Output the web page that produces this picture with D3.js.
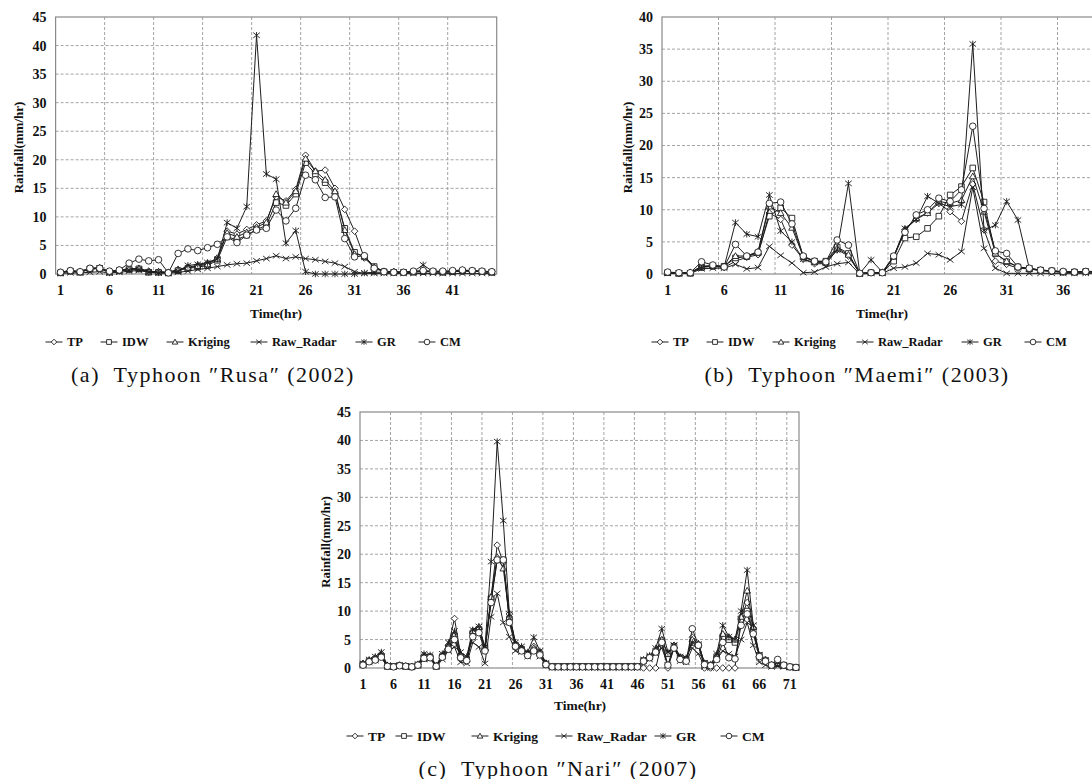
<!DOCTYPE html>
<html>
<head>
<meta charset="utf-8">
<script src="https://cdn.jsdelivr.net/npm/d3@7"></script>
<style>
  body { margin: 0; background: #fff; }
  svg { display: block; font-family: "Liberation Serif", "Times New Roman", serif; }
</style>
</head>
<body>
<div id="chart"></div>
<script>

//////////////////////////////////////////////////
/////////////////// Data /////////////////////////
//////////////////////////////////////////////////

const seriesNames = ["TP", "IDW", "Kriging", "Raw_Radar", "GR", "CM"]

// (a) Typhoon Rusa, hours 1..45
const rusaTP = [0.3,0.6,0.4,1.0,1.1,0.4,0.6,0.9,1.0,0.5,0.4,0.3,0.8,1.2,1.5,1.9,2.8,7.5,7.0,7.8,8.6,9.3,13.5,12.8,14.8,20.8,18.0,18.2,15.0,11.3,7.5,2.8,1.2,0.5,0.4,0.3,0.4,0.5,0.4,0.4,0.5,0.6,0.6,0.5,0.4]
const rusaIDW = [0.2,0.5,0.3,0.9,1.0,0.3,0.6,0.8,0.9,0.3,0.3,0.2,0.6,1.0,1.2,1.5,2.4,6.5,6.0,6.8,7.8,8.5,12.5,12.0,14.0,19.5,17.5,16.0,14.0,8.0,3.8,3.0,1.3,0.4,0.3,0.3,0.3,0.4,0.4,0.3,0.4,0.5,0.5,0.4,0.3]
const rusaKriging = [0.3,0.6,0.4,1.0,1.0,0.4,0.7,0.9,1.0,0.4,0.4,0.3,0.7,1.1,1.4,1.7,2.6,7.2,6.5,7.3,8.2,9.0,14.0,12.5,14.5,20.2,18.0,16.5,14.5,7.7,3.5,3.2,1.2,0.4,0.4,0.3,0.4,0.5,0.4,0.4,0.4,0.6,0.5,0.4,0.3]
const rusaRadar = [0.1,0.2,0.2,0.3,0.4,0.2,0.3,0.5,0.6,0.3,0.2,0.1,0.3,0.5,0.8,1.0,1.3,1.6,1.8,1.9,2.3,2.7,3.2,2.7,3.0,2.7,2.5,2.2,1.9,1.3,0.4,0.1,0.1,0.1,0.1,0.1,0.1,0.1,0.1,0.1,0.1,0.1,0.1,0.1,0.1]
const rusaGR = [0.2,0.5,0.3,0.8,1.0,0.2,0.5,0.7,0.8,0.3,0.2,0.2,0.5,1.5,1.7,2.0,2.6,9.0,8.0,11.8,41.8,17.5,16.6,5.4,7.6,0.4,0.0,0.0,0.0,0.0,0.0,0.2,0.3,0.3,0.3,0.3,0.4,1.6,0.4,0.3,0.4,0.5,0.5,0.4,0.3]
const rusaCM = [0.3,0.6,0.4,1.0,1.0,0.5,0.7,1.9,2.6,2.3,2.5,0.2,3.6,4.4,4.1,4.6,5.2,6.5,5.5,6.8,7.7,8.0,11.2,9.3,11.5,17.3,16.5,13.4,13.5,6.2,3.0,3.2,1.0,0.4,0.3,0.3,0.5,0.6,0.5,0.5,0.6,0.7,0.6,0.5,0.4]

// (b) Typhoon Maemi, hours 1..40
const maemiTP = [0.2,0.1,0.2,1.2,1.2,1.0,2.0,2.6,3.0,9.5,8.5,4.5,2.3,1.6,1.6,3.8,2.8,0.1,0.2,0.2,2.5,6.9,8.5,9.5,11.0,9.7,8.2,14.0,6.9,2.0,1.5,0.9,0.8,0.5,0.4,0.3,0.3,0.3,0.3,0.3]
const maemiIDW = [0.2,0.1,0.1,1.0,1.2,1.2,2.5,2.7,3.3,9.0,10.3,8.7,2.7,2.0,2.0,4.2,3.2,0.1,0.2,0.2,2.0,5.6,5.8,7.1,9.0,12.3,13.6,16.5,11.2,3.2,1.9,1.1,0.8,0.6,0.5,0.3,0.3,0.4,0.3,0.3]
const maemiKriging = [0.2,0.1,0.2,1.2,1.3,1.2,2.8,2.8,3.5,10.5,9.5,7.2,2.7,1.9,1.8,4.0,3.0,0.1,0.2,0.2,2.7,6.9,8.7,9.5,11.3,11.0,11.5,15.2,9.7,3.2,2.0,1.1,0.8,0.6,0.5,0.3,0.3,0.4,0.3,0.3]
const maemiRadar = [0.1,0.1,0.1,0.8,0.9,0.9,1.5,0.8,1.0,4.3,2.9,1.7,0.2,0.3,1.1,1.6,1.8,0.0,0.1,0.1,0.9,1.1,1.7,3.2,3.0,2.2,3.5,13.5,4.0,0.9,0.1,0.1,0.1,0.1,0.1,0.1,0.1,0.1,0.1,0.1]
const maemiGR = [0.2,0.1,0.2,1.1,1.3,1.1,8.0,6.2,5.8,12.3,6.7,5.0,2.3,1.8,1.7,3.7,14.1,0.1,2.2,0.3,2.7,7.1,8.5,12.1,11.0,10.5,10.8,35.8,6.8,7.6,11.3,8.4,0.9,0.6,0.4,0.3,0.3,0.3,0.3,0.3]
const maemiCM = [0.3,0.2,0.2,1.9,1.4,1.1,4.6,2.8,3.4,11.0,11.2,7.8,2.8,2.0,1.9,5.3,4.5,0.1,0.2,0.2,2.8,6.5,9.2,10.0,11.8,11.3,13.1,23.0,10.2,3.6,3.2,1.1,0.9,0.6,0.5,0.4,0.3,0.4,0.4,0.3]

// (c) Typhoon Nari, hours 1..72
const nariTP = [0.8,1.3,1.8,2.5,0.4,0.3,0.5,0.3,0.2,0.6, 2.2,2.0,0.3,2.2,4.0,8.7,2.3,1.2,6.5,7.0, 3.2,12.5,21.6,18.5,9.5,4.2,3.5,2.5,3.8,2.8, 0.8,0.3,0.2,0.2,0.2,0.2,0.2,0.2,0.2,0.2, 0.2,0.2,0.2,0.2,0.2,0.2,0.0,0.0,0.0,4.5, 0.0,3.5,1.5,1.2,5.4,4.0,0.0,0.0,0.0,0.0, 0.0,0.0,9.0,11.5,7.0,2.0,1.5,0.5,0.8,0.4,0.2,0.1]
const nariIDW = [0.6,1.2,1.5,2.0,0.3,0.3,0.4,0.3,0.2,0.5, 1.8,1.9,0.3,2.0,3.5,5.5,2.0,1.5,6.0,6.8, 3.5,12.0,19.0,19.0,8.5,4.0,3.3,2.4,3.2,2.5, 0.7,0.3,0.3,0.3,0.3,0.3,0.3,0.3,0.3,0.3, 0.3,0.3,0.3,0.3,0.3,0.3,1.3,1.9,3.0,4.8, 2.5,3.8,1.8,1.5,4.5,4.0,0.8,0.5,2.0,5.5, 5.0,4.5,8.5,10.0,6.5,2.2,1.3,0.5,0.8,0.5,0.2,0.1]
const nariKriging = [0.7,1.3,1.6,2.2,0.4,0.3,0.5,0.3,0.3,0.6, 2.0,2.0,0.4,2.1,3.8,6.0,2.3,1.5,6.5,7.2, 3.5,12.5,19.5,17.5,9.0,4.0,3.5,2.6,3.5,2.6, 0.8,0.3,0.3,0.3,0.3,0.3,0.3,0.3,0.3,0.3, 0.3,0.3,0.3,0.3,0.3,0.3,1.3,2.0,3.2,5.0, 2.5,4.0,1.9,1.6,5.0,4.3,0.8,0.5,2.2,6.0, 5.4,5.0,9.0,13.6,7.2,2.2,1.3,0.5,0.9,0.5,0.2,0.1]
const nariRadar = [0.5,1.0,1.3,1.8,0.2,0.2,0.3,0.2,0.2,0.4, 1.5,1.6,0.2,1.5,3.0,3.7,1.0,0.8,4.5,3.7, 0.8,9.0,13.1,8.0,5.5,3.0,2.8,2.0,2.8,2.0, 0.5,0.0,0.0,0.0,0.0,0.0,0.0,0.0,0.0,0.0, 0.0,0.0,0.0,0.0,0.0,0.0,0.8,1.5,2.5,3.5, 0.5,4.0,1.2,1.0,3.5,2.5,0.2,0.0,1.5,3.0, 2.5,2.0,5.0,8.0,4.0,1.0,0.5,0.2,0.3,0.2,0.1,0.0]
const nariGR = [0.8,1.5,2.0,2.8,0.5,0.3,0.5,0.4,0.3,0.7, 2.5,2.3,0.4,2.5,4.5,6.5,2.8,2.0,6.7,7.3, 3.7,18.7,39.8,25.9,9.5,4.5,3.8,2.8,5.4,3.0, 0.9,0.3,0.3,0.3,0.3,0.3,0.3,0.3,0.3,0.3, 0.3,0.3,0.3,0.3,0.3,0.3,1.5,2.2,3.5,6.9, 2.8,4.0,2.0,1.8,4.5,4.2,0.9,0.6,2.5,7.5, 5.5,5.0,10.0,17.2,7.5,2.3,1.4,0.6,0.9,0.5,0.2,0.1]
const nariCM = [0.5,1.1,1.4,1.9,0.3,0.2,0.4,0.3,0.2,0.5, 1.7,1.8,0.3,1.9,3.3,5.0,1.8,1.3,5.5,6.2, 3.0,11.5,19.0,19.0,8.0,3.8,3.0,2.2,3.0,2.3, 0.6,0.2,0.2,0.2,0.2,0.2,0.2,0.2,0.2,0.2, 0.2,0.2,0.2,0.2,0.2,0.2,1.2,1.8,2.8,4.5, 0.5,3.5,1.5,1.2,6.9,4.0,0.6,0.4,1.5,4.5, 1.8,1.6,7.5,9.5,6.0,2.0,1.2,0.5,1.5,0.5,0.2,0.1]

const captionA = "(a)  Typhoon \u2033Rusa\u2033 (2002)"
const captionB = "(b)  Typhoon \u2033Maemi\u2033 (2003)"
const captionC = "(c)  Typhoon \u2033Nari\u2033 (2007)"

//////////////////////////////////////////////////
/////////////////// Constants ////////////////////
//////////////////////////////////////////////////

const width = 1092
const height = 779
const lineColour = "#1e1e1e"
const gridColour = "#9a9a9a"
const frameColour = "#8a8a8a"

// marker shapes, centred on 0,0
const markerPath = (type, r) => {
  switch (type) {
    case "TP": return `M0,${-r}L${r},0L0,${r}L${-r},0Z`
    case "IDW": return `M${-r*0.85},${-r*0.85}H${r*0.85}V${r*0.85}H${-r*0.85}Z`
    case "Kriging": return `M0,${-r}L${r},${r*0.75}L${-r},${r*0.75}Z`
    case "Raw_Radar": return `M${-r},${-r*0.8}L${r},${r*0.8}M${r},${-r*0.8}L${-r},${r*0.8}`
    case "GR": return `M${-r},${-r*0.8}L${r},${r*0.8}M${r},${-r*0.8}L${-r},${r*0.8}M0,${-r}L0,${r}`
    default: return `M${r},0A${r},${r} 0 1 1 ${-r},0A${r},${r} 0 1 1 ${r},0Z`
  }
}
const openMarker = t => !(t === "Raw_Radar" || t === "GR")

// layout of each panel (marker centres of the legend items given in px)
const panels = [
  { series: [rusaTP, rusaIDW, rusaKriging, rusaRadar, rusaGR, rusaCM], ymax: 45,
    left: 55.6, right: 496.7, top: 17, bottom: 274, yTitleX: 18, timeX: 276, timeY: 313,
    legendMarks: [54, 109, 175, 259, 364, 427], legendY: 342, legendSize: 12.5,
    caption: captionA, capX: 213, capY: 374 },
  { series: [maemiTP, maemiIDW, maemiKriging, maemiRadar, maemiGR, maemiCM], ymax: 40,
    left: 662, right: 1114, top: 17, bottom: 274, yTitleX: 627, timeX: 882, timeY: 313,
    legendMarks: [660, 715, 781, 865, 970, 1033], legendY: 342, legendSize: 12.5,
    caption: captionB, capX: 857, capY: 374 },
  { series: [nariTP, nariIDW, nariKriging, nariRadar, nariGR, nariCM], ymax: 45,
    left: 360, right: 799, top: 412, bottom: 668, yTitleX: 325, timeX: 580, timeY: 705,
    legendMarks: [355, 404, 480, 564, 663, 729], legendY: 736, legendSize: 13.5,
    caption: captionC, capX: 558, capY: 768 }
]

const svg = d3.select("#chart")
  .append("svg")
    .attr("width", width)
    .attr("height", height)

//////////////////////////////////////////////////
/////////////////// Panels ///////////////////////
//////////////////////////////////////////////////

const drawPanel = p => {
  const n = p.series[0].length
  const hours = d3.range(1, n + 1)
  const g = svg.append("g")

  const xScale = d3.scaleBand().domain(hours).range([p.left, p.right]).padding(0)
  const yScale = d3.scaleLinear().domain([0, p.ymax]).range([p.bottom, p.top])
  const xc = h => xScale(h) + xScale.bandwidth() / 2
  const labelHours = hours.filter(h => (h - 1) % 5 === 0)

  // grid
  g.selectAll(".hgrid")
    .data(d3.range(5, p.ymax, 5))
    .join("line")
      .attr("x1", p.left).attr("x2", p.right)
      .attr("y1", d => yScale(d)).attr("y2", d => yScale(d))
      .attr("stroke", gridColour).attr("stroke-width", 0.9)
      .attr("stroke-dasharray", "3,2")
  g.selectAll(".vgrid")
    .data(labelHours.filter(h => h > 1))
    .join("line")
      .attr("x1", d => xScale(d)).attr("x2", d => xScale(d))
      .attr("y1", p.top).attr("y2", p.bottom)
      .attr("stroke", gridColour).attr("stroke-width", 0.9)
      .attr("stroke-dasharray", "3,2")

  // frame
  g.append("rect")
    .attr("x", p.left).attr("y", p.top)
    .attr("width", p.right - p.left).attr("height", p.bottom - p.top)
    .attr("fill", "none").attr("stroke", frameColour).attr("stroke-width", 1.2)

  // axes
  const xAxis = g.append("g")
    .attr("transform", `translate(0, ${p.bottom})`)
    .call(d3.axisBottom(xScale).tickValues(labelHours).tickSize(0).tickPadding(11))
  const yAxis = g.append("g")
    .attr("transform", `translate(${p.left}, 0)`)
    .call(d3.axisLeft(yScale).tickValues(d3.range(0, p.ymax + 1, 5)).tickSize(0).tickPadding(9))
  ;[xAxis, yAxis].forEach(ax => {
    ax.attr("font-family", null)
    ax.select(".domain").remove()
    ax.selectAll("text")
      .attr("font-size", 14).attr("font-weight", "bold").attr("fill", "#111")
  })

  g.append("text")
    .attr("x", p.timeX).attr("y", p.timeY)
    .attr("text-anchor", "middle").attr("dominant-baseline", "central")
    .attr("font-size", 13.5).attr("font-weight", "bold").attr("fill", "#111")
    .text("Time(hr)")
  g.append("text")
    .attr("transform", `translate(${p.yTitleX}, ${(p.top + p.bottom) / 2 + 2}) rotate(-90)`)
    .attr("text-anchor", "middle").attr("dominant-baseline", "central")
    .attr("font-size", 13).attr("font-weight", "bold").attr("fill", "#111")
    .text("Rainfall(mm/hr)")

  // series
  const line = d3.line().x((d, i) => xc(i + 1)).y(d => yScale(d))
  p.series.forEach((values, si) => {
    const name = seriesNames[si]
    const sg = g.append("g").attr("class", "series-" + name)
    sg.append("path")
      .datum(values)
      .attr("fill", "none")
      .attr("stroke", lineColour)
      .attr("stroke-width", 1)
      .attr("stroke-linejoin", "round")
      .attr("d", line)
    sg.selectAll(".marker")
      .data(values)
      .join("path")
        .attr("class", "marker")
        .attr("transform", (d, i) => `translate(${xc(i + 1)}, ${yScale(d)})`)
        .attr("d", markerPath(name, 3.3))
        .attr("fill", openMarker(name) ? "#fff" : "none")
        .attr("stroke", lineColour)
        .attr("stroke-width", 0.9)
  })

  // legend
  const lg = g.append("g").attr("transform", `translate(0, ${p.legendY})`)
  seriesNames.forEach((name, i) => {
    const item = lg.append("g").attr("transform", `translate(${p.legendMarks[i]}, 0)`)
    item.append("line").attr("x1", -8.5).attr("x2", 8.5).attr("stroke", lineColour).attr("stroke-width", 1)
    item.append("path")
      .attr("d", markerPath(name, 2.8))
      .attr("fill", openMarker(name) ? "#fff" : "none")
      .attr("stroke", lineColour).attr("stroke-width", 0.9)
    item.append("text")
      .attr("x", 13).attr("dominant-baseline", "central")
      .attr("font-size", p.legendSize).attr("font-weight", "bold").attr("fill", "#111")
      .text(name)
  })

  // caption
  svg.append("text")
    .attr("x", p.capX).attr("y", p.capY)
    .attr("text-anchor", "middle").attr("dominant-baseline", "central")
    .attr("font-family", "Liberation Serif, DejaVu Serif, serif")
    .attr("font-size", 22).attr("letter-spacing", 1.5).attr("fill", "#111")
    .style("white-space", "pre")
    .text(p.caption)
}

panels.forEach(drawPanel)

</script>
</body>
</html>
